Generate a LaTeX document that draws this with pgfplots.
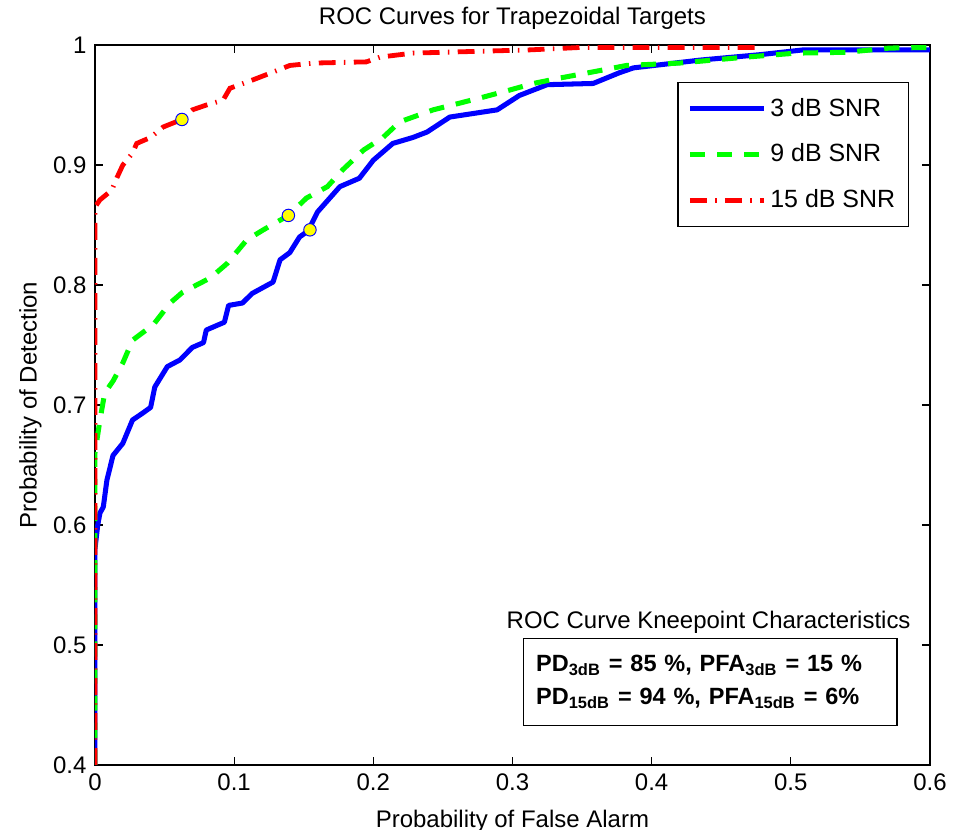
\documentclass[border=0pt]{standalone}
\usepackage{fontspec}
\setmainfont{Liberation Sans}
\usepackage{pgfplots}
\pgfplotsset{compat=1.18}
\definecolor{mblue}{RGB}{0,0,255}
\definecolor{mgreen}{RGB}{0,255,0}
\definecolor{mred}{RGB}{255,0,0}
\definecolor{myellow}{RGB}{255,255,0}
\begin{document}
\begin{tikzpicture}
\begin{axis}[
  scale only axis,
  width=348.2pt, height=300.2pt,
  xmin=0, xmax=0.6, ymin=0.4, ymax=1,
  xtick={0,0.1,0.2,0.3,0.4,0.5,0.6},
  ytick={0.4,0.5,0.6,0.7,0.8,0.9,1},
  /pgf/number format/assume math mode=true,
  tick align=inside, major tick length=3.3pt,
  tick style={black, line width=0.5pt},
  axis line style={black, line width=0.6pt},
  ticklabel style={font=\fontsize{10}{12}\selectfont},
  title={ROC Curves for Trapezoidal Targets},
  title style={yshift=-3pt},
  xlabel={Probability of False Alarm},
  ylabel={Probability of Detection},
  xlabel style={yshift=-1.5pt},
  ylabel style={yshift=-2pt},
  legend style={at={(0.975,0.949)}, anchor=north east, draw=black, line width=0.6pt,
    inner xsep=4pt, inner ysep=5pt, row sep=7pt,
    nodes={inner sep=1.5pt, anchor=west}, font=\fontsize{10.4}{12}\selectfont},
  legend cell align=left,
  legend image code/.code={\draw[#1] (0pt,0pt) -- (31pt,0pt);},
]
\addplot[mblue, line width=2.1pt, line join=round] coordinates {
(0,0.4) (0,0.58) (0.002,0.60) (0.0036,0.61) (0.006,0.615) (0.0086,0.6375) (0.013,0.658)
(0.02,0.668) (0.027,0.6875) (0.034,0.693) (0.04,0.698) (0.043,0.715) (0.052,0.732)
(0.061,0.7375) (0.07,0.748) (0.078,0.752) (0.08,0.7625) (0.093,0.769) (0.096,0.783)
(0.106,0.785) (0.113,0.793) (0.128,0.8025) (0.133,0.821) (0.14,0.827) (0.147,0.84)
(0.153,0.845) (0.16,0.861) (0.176,0.882) (0.19,0.889) (0.2,0.904) (0.214,0.918)
(0.2285,0.923) (0.2386,0.9275) (0.255,0.94) (0.289,0.946) (0.305,0.958) (0.325,0.967)
(0.358,0.968) (0.377,0.977) (0.387,0.981) (0.435,0.9875) (0.478,0.992) (0.509,0.996)
(0.6,0.996)
};
\addlegendentry{3 dB SNR}
\addplot[mgreen, line width=2.1pt, dash pattern=on 6.3pt off 5pt] coordinates {
(0,0.4) (0,0.66) (0.0036,0.6875) (0.007,0.71) (0.013,0.72) (0.02,0.735) (0.027,0.754)
(0.042,0.767) (0.054,0.785) (0.063,0.794) (0.083,0.806) (0.095,0.818) (0.109,0.8375)
(0.121,0.846) (0.139,0.858) (0.152,0.8725) (0.167,0.882) (0.178,0.896) (0.193,0.9125)
(0.207,0.923) (0.219,0.936) (0.243,0.946) (0.277,0.956) (0.298,0.9625) (0.315,0.968)
(0.334,0.9725) (0.3535,0.9767) (0.382,0.983) (0.42,0.985) (0.444,0.9875) (0.468,0.99)
(0.504,0.9933) (0.54,0.994) (0.571,0.9975) (0.6,0.998)
};
\addlegendentry{9 dB SNR}
\addplot[mred, line width=2pt, dash pattern=on 7pt off 3.5pt on 0.6pt off 3.5pt] coordinates {
(0,0.4) (0,0.865) (0.0036,0.871) (0.012,0.879) (0.016,0.89) (0.02,0.90) (0.027,0.91)
(0.03,0.918) (0.04,0.923) (0.049,0.9317) (0.0625,0.938) (0.07,0.946) (0.08,0.95)
(0.092,0.954) (0.097,0.964) (0.1135,0.971) (0.128,0.9775) (0.14,0.983) (0.157,0.985)
(0.195,0.986) (0.205,0.99) (0.2285,0.9933) (0.3126,0.996) (0.3485,0.998) (0.476,0.998)
};
\addlegendentry{15 dB SNR}
\addplot[only marks, mark=*, mark size=2.6pt, mark options={fill=myellow, draw=mblue, line width=0.4pt}, forget plot] coordinates {
(0.0625,0.938) (0.139,0.858) (0.1545,0.846)
};
\node[font=\fontsize{10}{12}\selectfont] at (axis cs:0.441,0.519) {ROC Curve Kneepoint Characteristics};
\node[draw=black, line width=0.6pt, align=left, font=\fontsize{9.8}{12}\selectfont\bfseries,
  inner xsep=5.4pt, text width=145pt, minimum height=36.3pt]
  at (axis cs:0.442,0.469)
  {PD\textsubscript{3dB} = 85 \%, PFA\textsubscript{3dB} = 15 \%\\[1.8pt]
   PD\textsubscript{15dB} = 94 \%, PFA\textsubscript{15dB} = 6\%};
\coordinate (sw) at (rel axis cs:0,0);
\coordinate (ne) at (rel axis cs:1,1);
\end{axis}
\pgfresetboundingbox
\path[use as bounding box] ([xshift=-39.6pt,yshift=-27.1pt]sw) rectangle ([xshift=11.3pt,yshift=18.8pt]ne);
\end{tikzpicture}
\end{document}
